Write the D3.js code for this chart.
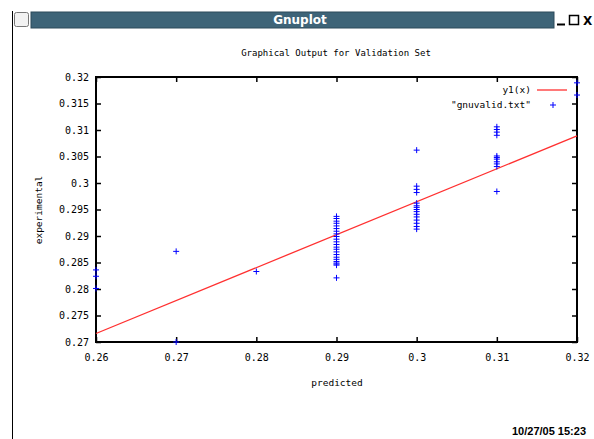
<!DOCTYPE html>
<html>
<head>
<meta charset="utf-8">
<script src="https://cdn.jsdelivr.net/npm/d3@7"></script>
<style>
  body { margin: 0; background: #fff; }
  svg { display: block; }
</style>
</head>
<body>
<script>
// tick values
var xTicks = [0.26, 0.27, 0.28, 0.29, 0.30, 0.31, 0.32];
var yTicks = [0.27, 0.275, 0.28, 0.285, 0.29, 0.295, 0.30, 0.305, 0.31, 0.315, 0.32];

// fitted line y1(x), end points
var fitX = [0.26, 0.32];
var fitY = [0.2716, 0.3089];

// "gnuvalid.txt" points, grouped by predicted value
var predicted = [0.26, 0.27, 0.28, 0.29, 0.30, 0.31, 0.32];
var experimental = [
  [0.2836, 0.2824, 0.2801],
  [0.2871, 0.2700],
  [0.2833],
  [0.2937, 0.2933, 0.2928, 0.2924, 0.2919, 0.2914, 0.2909, 0.2904, 0.2899, 0.2894,
   0.2889, 0.2884, 0.2879, 0.2875, 0.2870, 0.2865, 0.2860, 0.2856, 0.2852, 0.2849,
   0.2847, 0.2845, 0.2821],
  [0.3062, 0.2994, 0.2988, 0.2982, 0.2962, 0.2957, 0.2954, 0.2950, 0.2946, 0.2941,
   0.2936, 0.2930, 0.2924, 0.2918, 0.2913],
  [0.3106, 0.3101, 0.3096, 0.3090, 0.3051, 0.3048, 0.3045, 0.3040, 0.3036, 0.3031, 0.2984],
  [0.3189, 0.3166]
];

var W = 594, H = 439;
var mono = "'DejaVu Sans Mono', 'Liberation Mono', monospace";

var svg = d3.select('body')
    .append('svg')
    .attr('width', W)
    .attr('height', H);

// ---- window decoration ----
svg.append('line')
    .attr('x1', 12.5).attr('y1', 11)
    .attr('x2', 12.5).attr('y2', H)
    .attr('stroke', '#000')
    .attr('stroke-width', 1);

svg.append('rect')
    .attr('x', 14.5).attr('y', 12.5)
    .attr('width', 14).attr('height', 14)
    .attr('rx', 2)
    .attr('fill', '#f2f2f2')
    .attr('stroke', '#777');

svg.append('rect')
    .attr('x', 31).attr('y', 12)
    .attr('width', 523).attr('height', 16)
    .attr('fill', '#3e6478')
    .attr('stroke', '#2c4a5a');

svg.append('text')
    .attr('x', 300)
    .attr('y', 24)
    .attr('font-family', "'DejaVu Sans', sans-serif")
    .attr('font-size', 12)
    .attr('font-weight', 'bold')
    .attr('fill', '#fff')
    .style('text-anchor', 'middle')
    .text('Gnuplot');

svg.append('line')
    .attr('x1', 557).attr('y1', 24.5).attr('x2', 565).attr('y2', 24.5)
    .attr('stroke', '#000').attr('stroke-width', 2);
svg.append('rect')
    .attr('x', 569.5).attr('y', 15.5).attr('width', 9).attr('height', 9)
    .attr('fill', 'none').attr('stroke', '#000').attr('stroke-width', 1.5);
svg.append('text')
    .attr('x', 583).attr('y', 25)
    .attr('font-family', "'DejaVu Sans', sans-serif")
    .attr('font-size', 12).attr('font-weight', 'bold')
    .text('X');

// ---- plot ----
var x = d3.scaleLinear().domain([0.26, 0.32]).range([96, 577]);
var y = d3.scaleLinear().domain([0.27, 0.32]).range([342, 77]);
var fmt = function(d) { return String(+d.toFixed(3)); };

svg.append('text')
    .attr('x', 336)
    .attr('y', 56)
    .attr('font-family', mono)
    .attr('font-size', 9)
    .style('text-anchor', 'middle')
    .text('Graphical Output for Validation Set');

svg.append('g')
    .attr('transform', 'translate(0,342)')
    .call(d3.axisBottom(x).tickValues(xTicks).tickFormat(fmt).tickSize(-5).tickPadding(12));
svg.append('g')
    .attr('transform', 'translate(0,77)')
    .call(d3.axisTop(x).tickValues(xTicks).tickFormat('').tickSize(-5));
svg.append('g')
    .attr('transform', 'translate(96,0)')
    .call(d3.axisLeft(y).tickValues(yTicks).tickFormat(fmt).tickSize(-5).tickPadding(7));
svg.append('g')
    .attr('transform', 'translate(577,0)')
    .call(d3.axisRight(y).tickValues(yTicks).tickFormat('').tickSize(-5));

svg.selectAll('.domain').remove();
svg.selectAll('.tick line').attr('stroke', '#000').attr('stroke-width', 1.5);
svg.selectAll('.tick text')
    .attr('font-family', mono)
    .attr('font-size', 10)
    .attr('fill', '#000');

svg.append('rect')
    .attr('x', 96).attr('y', 77)
    .attr('width', 481).attr('height', 265)
    .attr('fill', 'none')
    .attr('stroke', '#000')
    .attr('stroke-width', 2);

svg.append('text')
    .attr('x', 337)
    .attr('y', 386)
    .attr('font-family', mono)
    .attr('font-size', 9.5)
    .style('text-anchor', 'middle')
    .text('predicted');

svg.append('text')
    .attr('transform', 'translate(42,210) rotate(-90)')
    .attr('font-family', mono)
    .attr('font-size', 9.5)
    .style('text-anchor', 'middle')
    .text('experimental');

// fitted line
var fitData = fitX.map(function(d, i) { return { x: d, y: fitY[i] }; });
var line = d3.line()
    .x(function(d) { return x(d.x); })
    .y(function(d) { return y(d.y); });

svg.append('path')
    .attr('d', line(fitData))
    .attr('stroke', '#ff3030')
    .attr('stroke-width', 1.3)
    .attr('fill', 'none');

// points
var pts = [];
predicted.forEach(function(p, i) {
  experimental[i].forEach(function(v) { pts.push({ x: p, y: v }); });
});

var plus = 'M-3,0H3M0,-3V3';
svg.selectAll('.pt')
    .data(pts)
    .enter()
    .append('path')
    .attr('class', 'pt')
    .attr('d', plus)
    .attr('transform', function(d) { return 'translate(' + x(d.x) + ',' + y(d.y) + ')'; })
    .attr('stroke', '#0000ff')
    .attr('stroke-width', 1)
    .attr('fill', 'none');

// legend
svg.append('text')
    .attr('x', 531).attr('y', 93)
    .attr('font-family', mono).attr('font-size', 9.5)
    .style('text-anchor', 'end')
    .text('y1(x)');
svg.append('line')
    .attr('x1', 537).attr('y1', 90).attr('x2', 567).attr('y2', 90)
    .attr('stroke', '#ff3030').attr('stroke-width', 1.3);
svg.append('text')
    .attr('x', 531).attr('y', 108)
    .attr('font-family', mono).attr('font-size', 9.5)
    .style('text-anchor', 'end')
    .text('"gnuvalid.txt"');
svg.append('path')
    .attr('d', plus)
    .attr('transform', 'translate(553,105)')
    .attr('stroke', '#0000ff')
    .attr('fill', 'none');

// timestamp
svg.append('text')
    .attr('x', 586).attr('y', 435)
    .attr('font-family', "'Liberation Sans', Arial, sans-serif")
    .attr('font-size', 11)
    .attr('font-weight', 'bold')
    .style('text-anchor', 'end')
    .text('10/27/05 15:23');
</script>
</body>
</html>
